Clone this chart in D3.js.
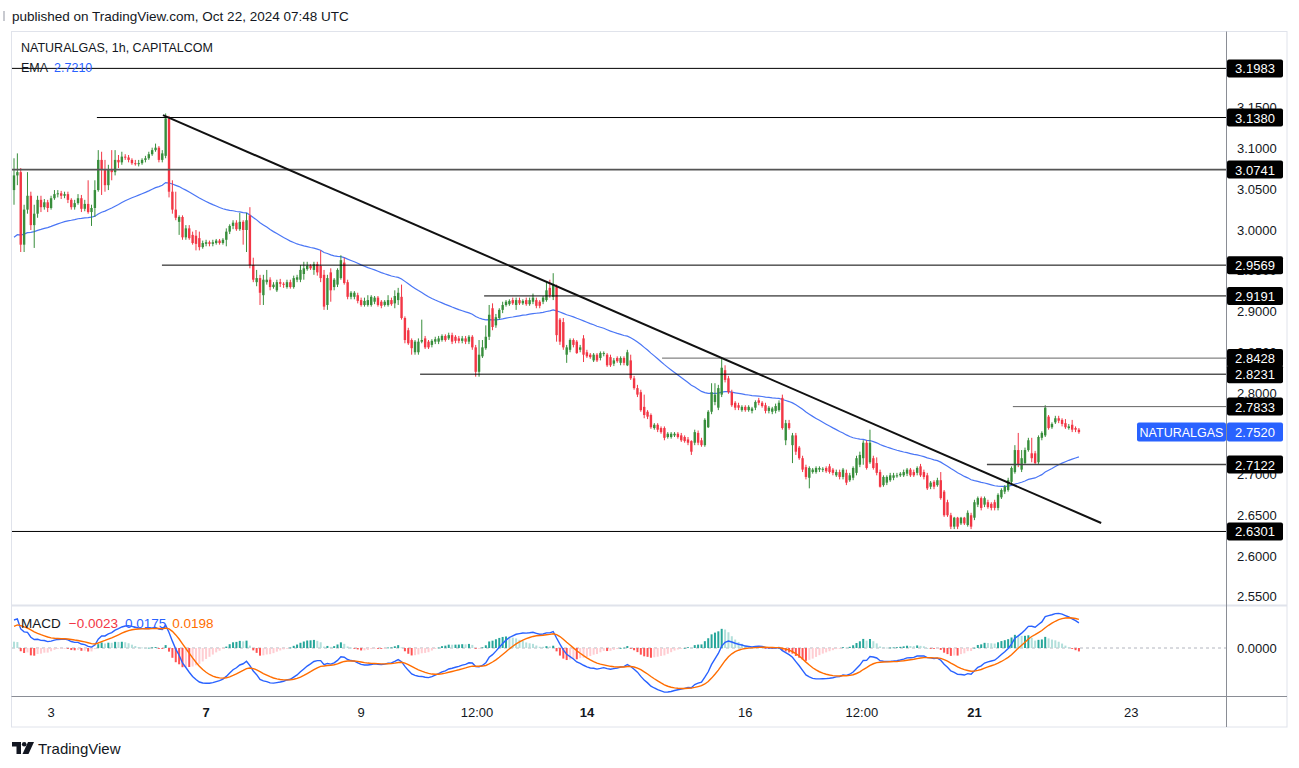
<!DOCTYPE html>
<html><head><meta charset="utf-8">
<script src="https://cdn.jsdelivr.net/npm/d3@7"></script>
<style>body{margin:0;background:#fff}svg{display:block;font-family:"Liberation Sans",Arial,sans-serif}</style>
</head><body><svg id="c" width="1299" height="768"></svg>
<script>
// ---------- DATA ----------
const headerText = "published on TradingView.com, Oct 22, 2024 07:48 UTC";
const symbolText = "NATURALGAS, 1h, CAPITALCOM";
const emaLabel = "2.7210";
const macdLabels = ["\u22120.0023", "0.0175", "0.0198"];
const lastPrice = 2.7520;
const lastName = "NATURALGAS";
// OHLC per hourly bar [open, high, low, close]
const ohlc = [
[3.049,3.088,3.031,3.067],[3.067,3.094,3.055,3.071],[3.071,3.076,2.973,2.982],[2.982,3.031,2.973,3.025],[3.025,3.071,3.020,3.042],
[3.042,3.047,3.000,3.006],[3.006,3.031,2.978,3.020],[3.020,3.042,3.015,3.037],[3.037,3.042,3.022,3.028],[3.028,3.038,3.025,3.034],
[3.034,3.037,3.022,3.027],[3.027,3.042,3.025,3.039],[3.039,3.049,3.037,3.044],[3.044,3.049,3.040,3.045],[3.045,3.048,3.038,3.042],
[3.042,3.047,3.039,3.044],[3.044,3.047,3.033,3.037],[3.037,3.039,3.025,3.028],[3.028,3.037,3.025,3.033],[3.033,3.044,3.031,3.039],
[3.039,3.043,3.022,3.026],[3.026,3.037,3.023,3.032],[3.032,3.061,3.020,3.022],[3.022,3.031,3.005,3.027],[3.027,3.061,3.016,3.049],
[3.049,3.098,3.047,3.086],[3.086,3.096,3.043,3.074],[3.074,3.086,3.047,3.055],[3.055,3.080,3.049,3.074],[3.074,3.098,3.061,3.071],
[3.071,3.098,3.067,3.086],[3.086,3.092,3.076,3.083],[3.083,3.096,3.080,3.090],[3.090,3.093,3.086,3.089],[3.089,3.092,3.083,3.086],
[3.086,3.088,3.080,3.082],[3.082,3.086,3.079,3.081],[3.081,3.086,3.078,3.082],[3.082,3.088,3.080,3.086],[3.086,3.091,3.083,3.088],
[3.088,3.096,3.086,3.093],[3.093,3.101,3.091,3.098],[3.098,3.106,3.096,3.101],[3.101,3.103,3.083,3.086],[3.086,3.098,3.083,3.094],
[3.091,3.143,3.088,3.137],[3.137,3.140,3.040,3.047],[3.047,3.061,3.020,3.025],[3.025,3.047,3.012,3.015],[3.010,3.018,2.994,3.016],
[3.016,3.018,2.988,2.991],[2.991,3.006,2.988,3.002],[3.002,3.006,2.988,2.990],[2.994,2.998,2.982,2.984],[2.993,3.000,2.975,2.983],
[2.990,2.998,2.975,2.979],[2.979,2.987,2.977,2.984],[2.983,2.988,2.980,2.985],[2.985,2.987,2.980,2.983],[2.983,2.988,2.980,2.985],
[2.984,2.989,2.982,2.987],[2.987,2.989,2.982,2.984],[2.984,2.990,2.982,2.988],[2.988,3.002,2.980,2.998],[2.998,3.007,2.995,3.005],
[3.005,3.012,3.001,3.009],[3.009,3.012,2.999,3.001],[3.001,3.021,2.999,3.010],[3.010,3.012,2.982,3.000],[3.000,3.021,2.973,3.012],
[3.018,3.028,2.953,2.957],[2.957,2.966,2.936,2.939],[2.936,2.951,2.931,2.941],[2.941,2.945,2.908,2.923],[2.920,2.945,2.908,2.939],
[2.936,2.951,2.933,2.939],[2.939,2.942,2.926,2.930],[2.930,2.936,2.928,2.933],[2.926,2.939,2.924,2.936],[2.936,2.940,2.930,2.934],
[2.934,2.936,2.929,2.933],[2.930,2.939,2.928,2.936],[2.936,2.939,2.928,2.930],[2.930,2.944,2.928,2.941],[2.939,2.945,2.936,2.942],
[2.939,2.957,2.936,2.951],[2.946,2.961,2.939,2.953],[2.952,2.961,2.950,2.956],[2.956,2.958,2.951,2.953],[2.951,2.961,2.945,2.958],
[2.958,2.961,2.944,2.948],[2.956,2.975,2.936,2.941],[2.945,2.951,2.902,2.906],[2.908,2.945,2.902,2.941],[2.948,2.953,2.912,2.926],
[2.930,2.941,2.926,2.939],[2.933,2.953,2.930,2.951],[2.941,2.969,2.939,2.963],[2.960,2.966,2.933,2.935],[2.936,2.939,2.915,2.918],
[2.918,2.925,2.915,2.923],[2.918,2.925,2.915,2.923],[2.920,2.923,2.910,2.913],[2.914,2.917,2.906,2.908],[2.908,2.917,2.906,2.913],
[2.908,2.920,2.906,2.914],[2.908,2.920,2.906,2.918],[2.912,2.919,2.909,2.917],[2.917,2.919,2.906,2.908],[2.912,2.914,2.904,2.907],
[2.908,2.914,2.906,2.912],[2.908,2.920,2.906,2.914],[2.914,2.917,2.907,2.909],[2.910,2.926,2.904,2.919],[2.914,2.929,2.908,2.923],
[2.918,2.933,2.890,2.892],[2.892,2.894,2.861,2.865],[2.877,2.880,2.859,2.861],[2.865,2.867,2.847,2.855],[2.850,2.865,2.847,2.863],
[2.850,2.867,2.847,2.863],[2.863,2.890,2.861,2.865],[2.867,2.870,2.854,2.856],[2.863,2.865,2.854,2.856],[2.859,2.866,2.856,2.864],
[2.863,2.869,2.860,2.866],[2.863,2.870,2.860,2.867],[2.865,2.872,2.863,2.870],[2.870,2.872,2.863,2.865],[2.867,2.874,2.865,2.871],
[2.871,2.874,2.860,2.863],[2.869,2.871,2.861,2.864],[2.867,2.870,2.861,2.864],[2.864,2.870,2.861,2.867],[2.867,2.870,2.860,2.863],
[2.863,2.871,2.860,2.869],[2.869,2.871,2.853,2.856],[2.856,2.859,2.820,2.826],[2.826,2.865,2.820,2.847],[2.845,2.865,2.843,2.856],
[2.855,2.883,2.853,2.869],[2.869,2.908,2.865,2.896],[2.904,2.910,2.877,2.881],[2.883,2.897,2.880,2.893],[2.892,2.904,2.890,2.902],
[2.902,2.912,2.898,2.908],[2.908,2.914,2.906,2.912],[2.909,2.915,2.907,2.913],[2.914,2.917,2.908,2.910],[2.908,2.917,2.902,2.914],
[2.914,2.917,2.908,2.910],[2.910,2.915,2.908,2.913],[2.914,2.917,2.907,2.909],[2.909,2.917,2.907,2.914],[2.912,2.922,2.909,2.917],
[2.914,2.917,2.904,2.907],[2.912,2.914,2.904,2.907],[2.912,2.919,2.909,2.917],[2.914,2.936,2.912,2.926],[2.929,2.939,2.917,2.920],
[2.918,2.947,2.914,2.933],[2.930,2.933,2.863,2.871],[2.890,2.892,2.859,2.863],[2.887,2.892,2.853,2.856],[2.847,2.859,2.837,2.856],
[2.853,2.867,2.850,2.865],[2.865,2.867,2.856,2.859],[2.863,2.865,2.848,2.849],[2.853,2.859,2.850,2.856],[2.867,2.871,2.838,2.847],
[2.850,2.853,2.843,2.845],[2.847,2.849,2.842,2.844],[2.840,2.849,2.838,2.847],[2.847,2.849,2.838,2.840],[2.843,2.851,2.840,2.849],
[2.848,2.851,2.845,2.849],[2.847,2.849,2.832,2.834],[2.844,2.847,2.832,2.834],[2.836,2.843,2.833,2.840],[2.843,2.845,2.837,2.839],
[2.837,2.845,2.834,2.843],[2.843,2.845,2.834,2.837],[2.834,2.853,2.833,2.850],[2.840,2.847,2.816,2.818],[2.818,2.821,2.804,2.806],
[2.806,2.810,2.795,2.798],[2.801,2.804,2.777,2.779],[2.783,2.798,2.769,2.773],[2.777,2.779,2.768,2.771],[2.773,2.775,2.756,2.758],
[2.757,2.763,2.755,2.761],[2.761,2.763,2.752,2.755],[2.757,2.759,2.750,2.752],[2.757,2.759,2.742,2.745],[2.746,2.752,2.744,2.750],
[2.746,2.752,2.744,2.750],[2.748,2.752,2.746,2.750],[2.750,2.752,2.744,2.746],[2.748,2.751,2.740,2.742],[2.746,2.748,2.739,2.741],
[2.743,2.746,2.736,2.739],[2.741,2.742,2.724,2.728],[2.739,2.755,2.736,2.752],[2.751,2.754,2.736,2.739],[2.742,2.745,2.734,2.736],
[2.736,2.769,2.734,2.767],[2.758,2.779,2.757,2.777],[2.777,2.812,2.774,2.801],[2.789,2.812,2.785,2.798],[2.782,2.810,2.779,2.806],
[2.798,2.843,2.795,2.831],[2.828,2.834,2.813,2.816],[2.818,2.821,2.799,2.801],[2.801,2.804,2.783,2.785],[2.788,2.790,2.779,2.782],
[2.785,2.788,2.779,2.782],[2.779,2.785,2.777,2.783],[2.783,2.785,2.777,2.779],[2.779,2.785,2.777,2.783],[2.778,2.783,2.775,2.781],
[2.782,2.791,2.779,2.789],[2.791,2.794,2.785,2.788],[2.788,2.790,2.782,2.784],[2.785,2.788,2.775,2.778],[2.778,2.784,2.775,2.782],
[2.777,2.783,2.774,2.781],[2.778,2.787,2.775,2.784],[2.779,2.791,2.777,2.788],[2.794,2.798,2.755,2.757],[2.742,2.767,2.736,2.763],
[2.763,2.767,2.755,2.757],[2.736,2.751,2.714,2.748],[2.748,2.751,2.724,2.728],[2.733,2.735,2.718,2.720],[2.720,2.723,2.703,2.706],
[2.709,2.712,2.694,2.697],[2.696,2.710,2.683,2.708],[2.703,2.708,2.701,2.706],[2.703,2.710,2.701,2.708],[2.706,2.710,2.703,2.708],
[2.706,2.709,2.703,2.707],[2.708,2.710,2.702,2.704],[2.710,2.713,2.701,2.703],[2.706,2.708,2.699,2.702],[2.699,2.706,2.697,2.703],
[2.703,2.706,2.694,2.697],[2.697,2.708,2.694,2.706],[2.702,2.706,2.687,2.690],[2.693,2.702,2.691,2.699],[2.696,2.710,2.693,2.708],
[2.702,2.723,2.699,2.720],[2.712,2.728,2.709,2.724],[2.720,2.742,2.712,2.739],[2.739,2.742,2.706,2.708],[2.715,2.755,2.713,2.739],
[2.720,2.723,2.706,2.708],[2.714,2.721,2.699,2.702],[2.703,2.706,2.684,2.685],[2.687,2.699,2.685,2.697],[2.690,2.699,2.687,2.697],
[2.693,2.702,2.691,2.699],[2.696,2.702,2.693,2.699],[2.698,2.702,2.696,2.699],[2.699,2.703,2.697,2.701],[2.699,2.706,2.697,2.703],
[2.701,2.708,2.698,2.706],[2.706,2.708,2.697,2.699],[2.703,2.706,2.697,2.699],[2.702,2.710,2.699,2.708],[2.710,2.713,2.697,2.699],
[2.703,2.706,2.694,2.697],[2.699,2.702,2.681,2.683],[2.685,2.692,2.682,2.690],[2.691,2.693,2.682,2.685],[2.687,2.696,2.685,2.693],
[2.693,2.703,2.669,2.671],[2.679,2.681,2.648,2.650],[2.666,2.669,2.648,2.650],[2.650,2.653,2.633,2.636],[2.636,2.648,2.633,2.647],
[2.647,2.648,2.633,2.636],[2.640,2.648,2.638,2.647],[2.647,2.648,2.638,2.640],[2.638,2.656,2.636,2.653],[2.650,2.653,2.633,2.636],
[2.647,2.669,2.644,2.666],[2.663,2.673,2.660,2.671],[2.671,2.673,2.656,2.659],[2.663,2.673,2.660,2.671],[2.666,2.669,2.658,2.660],
[2.664,2.666,2.656,2.659],[2.666,2.669,2.656,2.659],[2.659,2.677,2.656,2.675],[2.672,2.683,2.670,2.681],[2.679,2.687,2.676,2.685],
[2.681,2.696,2.679,2.693],[2.691,2.710,2.688,2.708],[2.703,2.736,2.701,2.730],[2.730,2.751,2.709,2.712],[2.706,2.730,2.703,2.720],
[2.714,2.733,2.712,2.730],[2.730,2.745,2.728,2.742],[2.726,2.745,2.715,2.720],[2.726,2.729,2.712,2.714],[2.715,2.748,2.713,2.746],
[2.745,2.753,2.742,2.751],[2.748,2.785,2.746,2.782],[2.771,2.773,2.755,2.757],[2.758,2.764,2.756,2.762],[2.764,2.772,2.762,2.769],
[2.769,2.772,2.763,2.766],[2.767,2.769,2.759,2.762],[2.763,2.768,2.756,2.758],[2.757,2.762,2.755,2.759],[2.761,2.767,2.752,2.755],
[2.757,2.759,2.752,2.755],[2.755,2.757,2.750,2.752]
];
// indicator state carried in from before the first visible bar
const emaPeriod = 50, emaSeed = 2.988;
const macdFast = 12, macdSlow = 26, macdSignal = 9;
const seedFast = 3.040, seedSlow = 3.022, seedSignal = 0.0135;
// drawn horizontal levels and where they begin (bar index; null = left edge)
const levels = [3.1983, 3.1380, 3.0741, 2.9569, 2.9191, 2.8428, 2.8231, 2.7833, 2.7122, 2.6301];
const levelStarts = [null, 24.6, null, 43.9, 139.5, 192.3, 120.5, 296.4, 288.7, null];
// trend line anchors [bar index, price]
const trendLine = [[44.2, 3.141], [322.6, 2.6405]];
// axes
const priceTicks = [2.55, 2.60, 2.65, 2.70, 2.75, 2.80, 2.85, 2.90, 2.95, 3.00, 3.05, 3.10, 3.15];
const timeTickIdx = [11, 57, 103, 137.4, 170, 217, 251.6, 285, 331.5];
const timeTickLabels = ["3", "7", "9", "12:00", "14", "16", "12:00", "21", "23"];
const timeTickBold = [false, true, false, false, true, false, false, true, false];

// ---------- LAYOUT ----------
const svg = d3.select('#c');
const L = 12, R = 1226, T = 32, PB = 605, MB = 696, AB = 727, FR = 1287;
const UP = '#388E3C', DN = '#F23645', BLUE = '#2962FF', ORANGE = '#FF6D00', TXT = '#131722';
const x = d3.scaleLinear().domain([0, 360]).range([14, 14 + 360 * 3.37]);
const y = d3.scaleLinear().domain([2.55, 3.15]).range([596.75, 107.75]);
const ym = d3.scaleLinear().domain([-0.03, 0.03]).range([648 + 0.03 * 1486, 648 - 0.03 * 1486]);

const defs = svg.append('defs');
defs.append('clipPath').attr('id', 'cm').append('rect').attr('x', L).attr('y', T).attr('width', R - L).attr('height', PB - T);
defs.append('clipPath').attr('id', 'cd').append('rect').attr('x', L).attr('y', PB + 1).attr('width', R - L).attr('height', MB - PB - 1);

// header
svg.append('rect').attr('x', 3).attr('y', 11).attr('width', 2).attr('height', 10).attr('fill', '#c8cad0');
svg.append('text').attr('x', 12).attr('y', 16).attr('dominant-baseline', 'central')
  .attr('font-size', 13.5).attr('fill', TXT).text(headerText);

// frame
svg.append('rect').attr('x', 11.5).attr('y', 31.5).attr('width', FR - 11.5).attr('height', AB - 31.5)
  .attr('fill', 'none').attr('stroke', '#e0e3eb');
svg.append('line').attr('x1', 11.5).attr('x2', FR).attr('y1', PB + 0.5).attr('y2', PB + 0.5).attr('stroke', '#e0e3eb').attr('stroke-width', 2);
svg.append('line').attr('x1', 11.5).attr('x2', FR).attr('y1', MB + 0.5).attr('y2', MB + 0.5).attr('stroke', '#8a8d95');
svg.append('line').attr('x1', R + 0.5).attr('x2', R + 0.5).attr('y1', 31.5).attr('y2', AB).attr('stroke', '#8a8d95');

// ---------- INDICATORS ----------
const closes = ohlc.map(d => d[3]);
let e = emaSeed;
const ema = closes.map(c => (e = e + (c - e) * 2 / (emaPeriod + 1)));
let ef = seedFast, es = seedSlow, sg = seedSignal;
const macd = [], signal = [], hist = [];
closes.forEach(c => {
  ef = ef + (c - ef) * 2 / (macdFast + 1);
  es = es + (c - es) * 2 / (macdSlow + 1);
  const m = ef - es;
  sg = sg + (m - sg) * 2 / (macdSignal + 1);
  macd.push(m); signal.push(sg); hist.push(m - sg);
});

// ---------- MAIN PANE ----------
const gm = svg.append('g').attr('clip-path', 'url(#cm)');
gm.append('path').datum(ema)
  .attr('d', d3.line().x((d, i) => x(i)).y(d => y(d)))
  .attr('fill', 'none').attr('stroke', '#4a76f5').attr('stroke-width', 1.2);

const cg = gm.append('g');
ohlc.forEach((d, i) => {
  const [o, h, l, c] = d;
  const col = c >= o ? UP : DN;
  const cx = x(i);
  cg.append('line').attr('x1', cx).attr('x2', cx).attr('y1', y(h)).attr('y2', y(l))
    .attr('stroke', col).attr('stroke-width', 1);
  const y0 = Math.min(y(o), y(c)), hh = Math.max(1, Math.abs(y(o) - y(c)));
  cg.append('rect').attr('x', cx - 1.2).attr('y', y0).attr('width', 2.4).attr('height', hh).attr('fill', col);
});

// horizontal levels
const levelColors = ['#000', '#000', '#555', '#000', '#000', '#666', '#000', '#666', '#444', '#000'];
const levelWidths = [1, 1, 1.6, 1, 1, 1, 1, 1, 1.6, 1];
levels.forEach((p, k) => {
  const xs = levelStarts[k] === null ? L : x(levelStarts[k]);
  gm.append('line').attr('x1', xs).attr('x2', R).attr('y1', y(p)).attr('y2', y(p))
    .attr('stroke', levelColors[k]).attr('stroke-width', levelWidths[k]);
});
// trend line
gm.append('line')
  .attr('x1', x(trendLine[0][0])).attr('y1', y(trendLine[0][1]))
  .attr('x2', x(trendLine[1][0])).attr('y2', y(trendLine[1][1]))
  .attr('stroke', '#111').attr('stroke-width', 2);

// legend
svg.append('text').attr('x', 21).attr('y', 48).attr('dominant-baseline', 'central')
  .attr('font-size', 12.5).attr('fill', TXT).text(symbolText);
const emaT = svg.append('text').attr('x', 21).attr('y', 68).attr('dominant-baseline', 'central').attr('font-size', 12.5);
emaT.append('tspan').attr('fill', TXT).text('EMA');
emaT.append('tspan').attr('fill', BLUE).attr('dx', 6).text(emaLabel);

// price axis ticks (those hidden under a level label are drawn clipped, as in the reference)
const ax = svg.append('g');
priceTicks.forEach(p => {
  ax.append('text').attr('x', 1237).attr('y', y(p)).attr('dominant-baseline', 'central')
    .attr('font-size', 13).attr('fill', TXT).text(p.toFixed(4));
});
// level labels
levels.forEach(p => {
  ax.append('rect').attr('x', 1227).attr('y', y(p) - 9).attr('width', 56).attr('height', 18).attr('rx', 2).attr('fill', '#000');
  ax.append('text').attr('x', 1255).attr('y', y(p) + 0.5).attr('dominant-baseline', 'central').attr('text-anchor', 'middle')
    .attr('font-size', 13).attr('fill', '#fff').text(p.toFixed(4));
});
// last price label
ax.append('rect').attr('x', 1137).attr('y', y(lastPrice) - 9.5).attr('width', 89).attr('height', 19).attr('rx', 2).attr('fill', BLUE);
ax.append('text').attr('x', 1181.5).attr('y', y(lastPrice) + 0.5).attr('dominant-baseline', 'central').attr('text-anchor', 'middle')
  .attr('font-size', 12.5).attr('fill', '#fff').text(lastName);
ax.append('rect').attr('x', 1227).attr('y', y(lastPrice) - 9.5).attr('width', 56).attr('height', 19).attr('rx', 2).attr('fill', BLUE);
ax.append('text').attr('x', 1255).attr('y', y(lastPrice) + 0.5).attr('dominant-baseline', 'central').attr('text-anchor', 'middle')
  .attr('font-size', 13).attr('fill', '#fff').text(lastPrice.toFixed(4));

// ---------- MACD PANE ----------
const gd = svg.append('g').attr('clip-path', 'url(#cd)');
gd.append('line').attr('x1', L).attr('x2', R).attr('y1', ym(0)).attr('y2', ym(0))
  .attr('stroke', '#b2b5be').attr('stroke-dasharray', '3,3');
hist.forEach((h, i) => {
  const prev = i > 0 ? hist[i - 1] : h;
  const col = h >= 0 ? (h > prev ? '#26A69A' : '#B2DFDB') : (h < prev ? '#FF5252' : '#FFCDD2');
  const y0 = Math.min(ym(0), ym(h)), hh = Math.max(0.8, Math.abs(ym(h) - ym(0)));
  gd.append('rect').attr('x', x(i) - 1).attr('y', y0).attr('width', 2).attr('height', hh).attr('fill', col);
});
const ln = d3.line().x((d, i) => x(i)).y(d => ym(d));
gd.append('path').datum(macd).attr('d', ln).attr('fill', 'none').attr('stroke', BLUE).attr('stroke-width', 1.4);
gd.append('path').datum(signal).attr('d', ln).attr('fill', 'none').attr('stroke', ORANGE).attr('stroke-width', 1.4);

const mT = svg.append('text').attr('x', 21).attr('y', 623).attr('dominant-baseline', 'central').attr('font-size', 13.5);
mT.append('tspan').attr('fill', TXT).text('MACD');
mT.append('tspan').attr('fill', '#F23645').attr('dx', 8).text(macdLabels[0]);
mT.append('tspan').attr('fill', BLUE).attr('dx', 7).text(macdLabels[1]);
mT.append('tspan').attr('fill', ORANGE).attr('dx', 6).text(macdLabels[2]);
svg.append('text').attr('x', 1237).attr('y', ym(0)).attr('dominant-baseline', 'central')
  .attr('font-size', 13).attr('fill', TXT).text('0.0000');

// ---------- TIME AXIS ----------
timeTickIdx.forEach((t, k) => {
  svg.append('text').attr('x', x(t)).attr('y', 712).attr('dominant-baseline', 'central').attr('text-anchor', 'middle')
    .attr('font-size', 13).attr('font-weight', timeTickBold[k] ? 'bold' : 'normal').attr('fill', TXT).text(timeTickLabels[k]);
});

// ---------- LOGO ----------
const lg = svg.append('g').attr('fill', TXT);
lg.append('path').attr('d', 'M12,742 h9 v12 h-4.5 v-7.5 h-4.5 z');
lg.append('circle').attr('cx', 24.2).attr('cy', 744.3).attr('r', 2.3);
lg.append('path').attr('d', 'M28,742 h6 l-5.5,12 h-6 z');
svg.append('text').attr('x', 38).attr('y', 748).attr('dominant-baseline', 'central')
  .attr('font-size', 15).attr('fill', TXT).text('TradingView');
</script></body></html>
